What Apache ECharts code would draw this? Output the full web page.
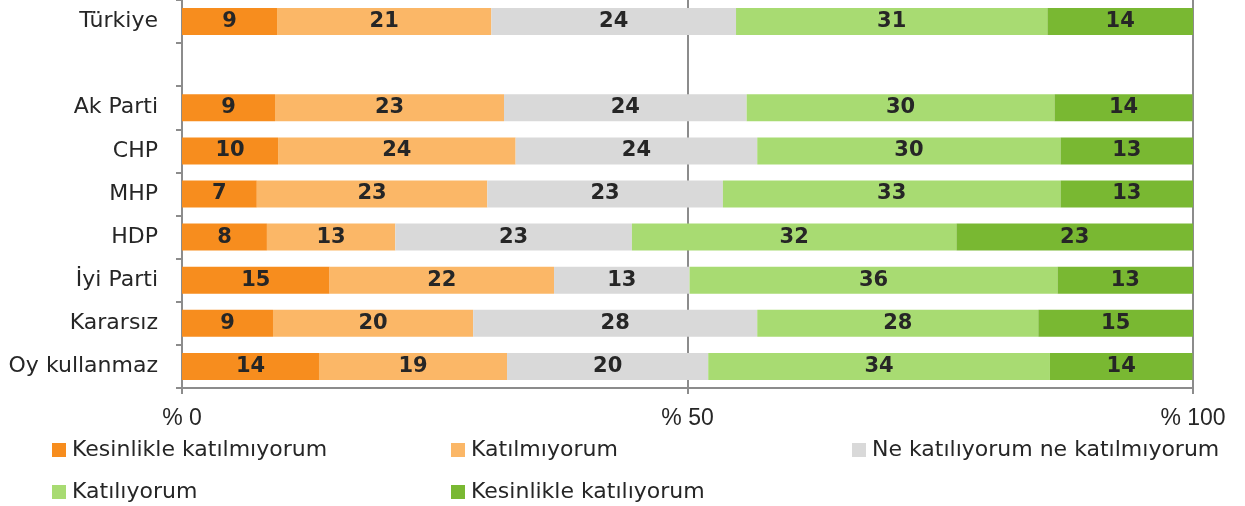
<!DOCTYPE html>
<html><head><meta charset="utf-8">
<script src="https://cdn.jsdelivr.net/npm/echarts@6/dist/echarts.min.js"></script>
<style>html,body{margin:0;padding:0;background:#fff}#c{width:1245px;height:506px}</style>
</head><body><div id="c"></div>
<script>
const categories = ['Türkiye', '', 'Ak Parti', 'CHP', 'MHP', 'HDP', 'İyi Parti', 'Kararsız', 'Oy kullanmaz'];
const seriesNames = ['Kesinlikle katılmıyorum', 'Katılmıyorum', 'Ne katılıyorum ne katılmıyorum', 'Katılıyorum', 'Kesinlikle katılıyorum'];
const kesinlikleKatilmiyorum = [9.4, '-', 9.2, 9.5, 7.4, 8.4, 14.6, 9.0, 13.55];
const katilmiyorum = [21.2, '-', 22.65, 23.5, 22.8, 12.7, 22.2, 19.8, 18.6];
const neNe = [24.2, '-', 24.0, 23.9, 23.3, 23.4, 13.4, 28.1, 19.9];
const katiliyorum = [30.8, '-', 30.45, 30.0, 33.4, 32.1, 36.4, 27.8, 33.8];
const kesinlikleKatiliyorum = [14.4, '-', 13.65, 13.1, 13.1, 23.4, 13.4, 15.3, 14.1];
const xTicks = [0, 50, 100];
const colors = ['#F78D1E', '#FBB767', '#D9D9D9', '#A8DB72', '#79B832'];
const allValues = [kesinlikleKatilmiyorum, katilmiyorum, neNe, katiliyorum, kesinlikleKatiliyorum];

const chart = echarts.init(document.getElementById('c'), null, {renderer: 'canvas'});
const legendLeft = [52, 451, 852, 52, 451];
const legendTop = [439, 439, 439, 481, 481];
chart.setOption({
  animation: false,
  grid: {left: 182, right: 52, top: 0, bottom: 118, containLabel: false},
  legend: seriesNames.map((n, i) => ({
    data: [n], left: legendLeft[i], top: legendTop[i], icon: 'rect', padding: 0,
    itemWidth: 14, itemHeight: 14, itemGap: 6,
    textStyle: {fontFamily: 'DejaVu Sans', fontSize: 22, lineHeight: 14, color: '#262626', padding: [0, 0, 0, 1]}
  })),
  xAxis: {
    type: 'value', min: xTicks[0], max: xTicks[xTicks.length - 1], interval: 50,
    axisLine: {show: true, lineStyle: {color: '#8C8C8C', width: 2}},
    axisTick: {show: true, length: 6, lineStyle: {color: '#8C8C8C', width: 2}},
    axisLabel: {formatter: v => '% ' + v, fontFamily: 'Liberation Sans', fontSize: 23, color: '#262626', margin: 19},
    splitLine: {show: true, lineStyle: {color: '#8C8C8C', width: 2}}
  },
  yAxis: {
    type: 'category', data: categories, inverse: true,
    axisLine: {show: true, lineStyle: {color: '#8C8C8C', width: 2}},
    axisTick: {show: true, length: 6, interval: 0, lineStyle: {color: '#8C8C8C', width: 2}},
    axisLabel: {fontFamily: 'DejaVu Sans', fontSize: 22, color: '#262626', margin: 24, interval: 0}
  },
  series: seriesNames.map((n, i) => ({
    name: n, type: 'bar', stack: 'total', data: allValues[i], barWidth: 27,
    itemStyle: {color: colors[i]},
    label: {
      show: true, position: 'inside', formatter: p => Math.round(p.value),
      fontFamily: 'DejaVu Sans', fontWeight: 'bold', fontSize: 21, color: '#262626'
    }
  }))
});
</script></body></html>
